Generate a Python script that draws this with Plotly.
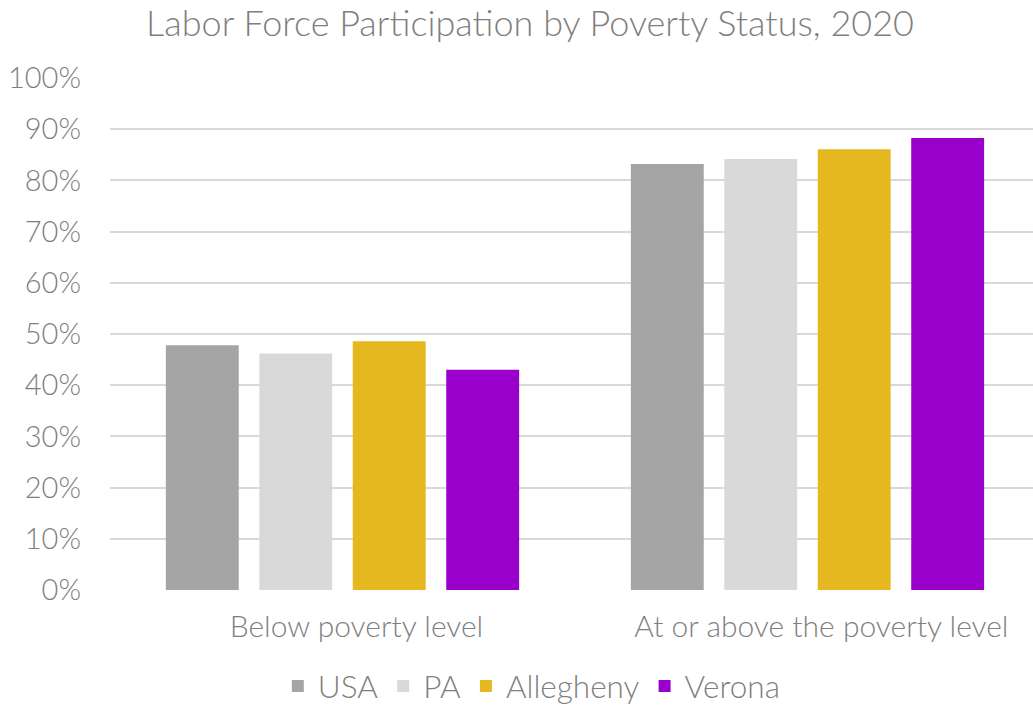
import plotly.graph_objects as go

categories = ["Below poverty level", "At or above the poverty level"]
series_names = ["USA", "PA", "Allegheny", "Verona"]
usa = [0.478, 0.832]
pa = [0.462, 0.842]
allegheny = [0.486, 0.861]
verona = [0.430, 0.883]
colors = ["#A5A5A5", "#D9D9D9", "#E5B81F", "#9900CC"]
y_ticks = [i / 10 for i in range(11)]
y_tick_labels = [f"{i * 10}%" for i in range(11)]

values = [usa, pa, allegheny, verona]
font_family = "Lato"
text_color = "#7F7F7F"

W, H = 1033, 706

fig = go.Figure()
for name, vals, col in zip(series_names, values, colors):
    fig.add_trace(go.Bar(
        name=name,
        x=[0, 1],
        y=vals,
        marker=dict(color=col, line=dict(width=0)),
    ))

fig.update_layout(
    width=W,
    height=H,
    barmode="group",
    bargap=0.196,
    bargroupgap=0.22,
    paper_bgcolor="white",
    plot_bgcolor="white",
    margin=dict(l=110, r=0, t=78, b=116, autoexpand=False),
    font=dict(family=font_family, color=text_color, size=29),
    title=dict(
        text="Labor Force Participation by Poverty Status, 2020",
        x=530 / W, xanchor="center",
        y=1 - 23 / H, yanchor="middle",
        yref="container",
        font=dict(family=font_family, size=36, color=text_color, weight=300),
    ),
    xaxis=dict(
        range=[-0.5, 1.485],
        tickmode="array",
        tickvals=[0.03, 1.03],
        ticktext=categories,
        showgrid=False,
        zeroline=False,
        showline=False,
        ticks="",
        ticklabelstandoff=16,
        tickfont=dict(family=font_family, size=30, color=text_color, weight=300),
    ),
    yaxis=dict(
        range=[0, 1],
        tickmode="array",
        tickvals=y_ticks,
        ticktext=y_tick_labels,
        showgrid=True,
        gridcolor="#D9D9D9",
        gridwidth=1.5,
        zeroline=False,
        showline=False,
        ticks="",
        ticklabelstandoff=28,
        tickfont=dict(family=font_family, size=29, color=text_color, weight=300),
    ),
    legend=dict(
        orientation="h",
        x=0.457, xanchor="center",
        y=-0.1875, yanchor="middle",
        font=dict(family=font_family, size=31.5, color=text_color, weight=300),
        itemwidth=30,
        traceorder="normal",
    ),
)

fig.write_html(
    "out.html",
    config={"displayModeBar": False},
    post_script="document.body.style.margin='0px';document.body.style.overflow='hidden';",
)
